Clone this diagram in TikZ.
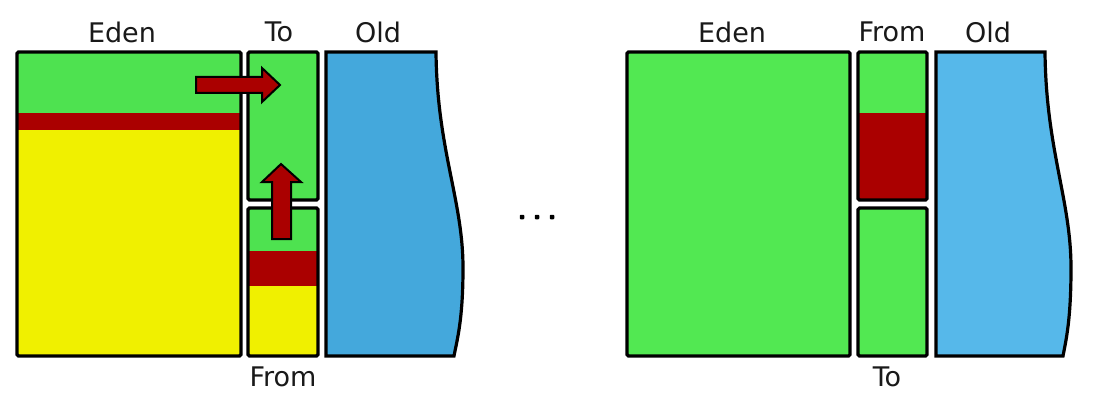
\documentclass[tikz,border=0pt]{standalone}
\usepackage{fontspec}
\setmainfont{DejaVu Sans}
\definecolor{gL}{RGB}{78,226,80}
\definecolor{gR}{RGB}{82,232,82}
\definecolor{rd}{RGB}{170,0,0}
\definecolor{yl}{RGB}{240,240,0}
\definecolor{bL}{RGB}{68,168,220}
\definecolor{bR}{RGB}{86,184,234}
\tikzset{
  outl/.style={draw=black,line width=3.2pt,rounded corners=1.5pt},
  lbl/.style={font=\fontsize{27}{27}\selectfont,text=black!90,inner sep=0pt},
  arr/.style={draw=black,line width=2pt,fill=rd,line join=miter},
  dot/.style={fill=black,inner sep=0pt,minimum size=4.5pt,rectangle,rounded corners=0.8pt},
}
\begin{document}
\begin{tikzpicture}[x=1pt,y=-1pt]
\useasboundingbox[fill=white] (0,0) rectangle (1105,409);
% ---------- left ----------
% Eden
\fill[gL] (17,52) rectangle (241,113);
\fill[rd] (17,113) rectangle (241,130);
\fill[yl] (17,130) rectangle (241,356);
\draw[outl] (17,52) rectangle (241,356);
% To
\fill[gL] (248,52) rectangle (318,200);
\draw[outl] (248,52) rectangle (318,200);
% From
\fill[gL] (248,208) rectangle (318,251);
\fill[rd] (248,251) rectangle (318,286);
\fill[yl] (248,286) rectangle (318,356);
\draw[outl] (248,208) rectangle (318,356);
% Old
\draw[outl,fill=bL,rounded corners=0pt] (326,52) -- (436,52) .. controls (437,150) and (463,200) .. (463,268) .. controls (463,320) and (457,340) .. (454,356) -- (326,356) -- cycle;
% arrows
\draw[arr] (196,77) -- (262,77) -- (262,68) -- (280,85) -- (262,102) -- (262,93) -- (196,93) -- cycle;
\draw[arr] (272,239) -- (272,182) -- (262,182) -- (281,164) -- (301,182) -- (291,182) -- (291,239) -- cycle;
% labels
\node[lbl] (edenL) at (122,32) {Eden};
\node[lbl] (toL) at (279,32) {To};
\node[lbl] (oldL) at (378,32) {Old};
\node[lbl] (fromL) at (283,377) {From};
% dots
\node[dot] (d1) at (522,217) {};
\node[dot] (d2) at (537,217) {};
\node[dot] (d3) at (552,217) {};
% ---------- right ----------
\fill[gR] (627,52) rectangle (850,356);
\draw[outl] (627,52) rectangle (850,356);
\fill[gR] (858,52) rectangle (927,113);
\fill[rd] (858,113) rectangle (927,200);
\draw[outl] (858,52) rectangle (927,200);
\fill[gR] (858,208) rectangle (927,356);
\draw[outl] (858,208) rectangle (927,356);
\draw[outl,fill=bR,rounded corners=0pt] (936,52) -- (1045,52) .. controls (1046,150) and (1071,200) .. (1071,268) .. controls (1071,320) and (1066,340) .. (1063,356) -- (936,356) -- cycle;
\node[lbl] (edenR) at (732,32) {Eden};
\node[lbl] (fromR) at (892,32) {From};
\node[lbl] (oldR) at (988,32) {Old};
\node[lbl] (toR) at (887,377) {To};
\end{tikzpicture}
\end{document}
